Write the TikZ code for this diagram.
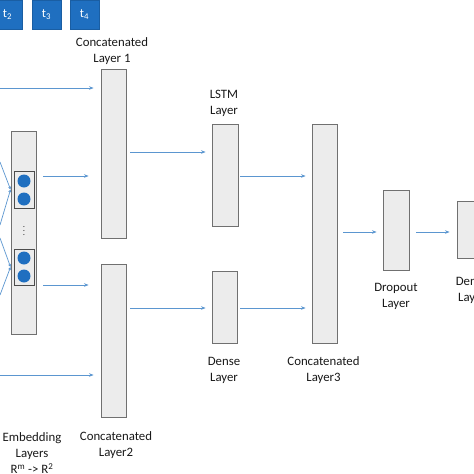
\documentclass[tikz,border=0pt]{standalone}
\usepackage{fontspec}
\setmainfont{Carlito}
\usetikzlibrary{arrows.meta,calc}
\definecolor{tblue}{RGB}{31,111,192}
\definecolor{arrowc}{RGB}{91,150,208}
\definecolor{rectfill}{RGB}{236,236,236}
\definecolor{rectdraw}{RGB}{112,112,112}
\definecolor{txt}{RGB}{25,25,25}
\begin{document}
\begin{tikzpicture}[x=1pt,y=-1pt,
  layer/.style={draw=rectdraw,fill=rectfill,line width=0.9pt,minimum width=25pt,inner sep=0pt},
  inbox/.style={draw=black!70,fill=rectfill,line width=0.8pt,minimum width=20pt,inner sep=0pt},
  dot/.style={circle,fill=tblue,minimum size=13pt,inner sep=0pt},
  tbox/.style={fill=tblue,draw=tblue!85!black,text=white,minimum width=29pt,minimum height=29pt,inner sep=0pt,font=\fontsize{12.5}{14}\selectfont},
  lbl/.style={align=center,text=txt,inner sep=0pt,font=\fontsize{12.8}{16}\selectfont},
  arr/.style={draw=arrowc,line width=0.8pt,-{Stealth[length=4.5pt,width=3.5pt]}},
  arrs/.style={draw=arrowc,line width=0.7pt,-{Stealth[length=3pt,width=3pt]}}]
\useasboundingbox (0,0) rectangle (474,474);
\fill[white] (0,0) rectangle (474,474);

% top blue boxes
\node[tbox] (t2) at (7.5,14.5) {t\textsubscript{2}};
\node[tbox] (t3) at (46.5,14.5) {t\textsubscript{3}};
\node[tbox] (t4) at (84.5,14.5) {t\textsubscript{4}};

% embedding
\node[layer,minimum height=203pt] (emb) at (23.5,232.5) {};
\node[inbox,minimum height=37pt] (box1) at (24,189.5) {};
\node[inbox,minimum height=36pt] (box2) at (24,267) {};
\node[dot] (d11) at (24,181) {};
\node[dot] (d12) at (24,199) {};
\node[dot] (d21) at (24,258) {};
\node[dot] (d22) at (24,276) {};
\node[text=black!80,inner sep=0pt,font=\fontsize{9}{10}\selectfont] (vd) at (24,228) {$\vdots$};

% layers
\node[layer,minimum height=169pt] (cat1) at (113.5,153.5) {};
\node[layer,minimum height=153pt] (cat2) at (113.5,340.5) {};
\node[layer,minimum width=26pt,minimum height=102pt] (lstm) at (225,175) {};
\node[layer,minimum height=72pt] (dense) at (224.5,307) {};
\node[layer,minimum height=219pt] (cat3) at (324.5,233.5) {};
\node[layer,minimum width=26pt,minimum height=80pt] (drop) at (396,230) {};
\node[layer,minimum width=26pt,minimum height=57pt] (dense2) at (470,229.5) {};

% labels
\node[lbl] (lcat1) at (112,51) {Concatenated\\Layer 1};
\node[lbl] (llstm) at (224,103) {LSTM\\Layer};
\node[lbl] (ldense) at (224,370) {Dense\\Layer};
\node[lbl] (lcat3) at (323.5,370) {Concatenated\\Layer3};
\node[lbl] (ldrop) at (396,296) {Dropout\\Layer};
\node[lbl] (ldense2) at (472,290) {Dense\\Layer};
\node[lbl] (lemb) at (32,453) {Embedding\\Layers\\R\textsuperscript{m} -> R\textsuperscript{2}};
\node[lbl] (lcat2) at (116,445) {Concatenated\\Layer2};

% input lines into embeddings
\coordinate (i1) at (0,162);
\coordinate (i2) at (0,225);
\coordinate (i3) at (0,238);
\coordinate (i4) at (0,295);
\draw[arrs] (i1) -- (emb.west |- box1.west);
\draw[arrs] (i2) -- (emb.west |- box1.west);
\draw[arrs] (i3) -- (emb.west |- box2.west);
\draw[arrs] (i4) -- (emb.west |- box2.west);

% free inputs
\coordinate (in1) at (0,88);
\coordinate (in2) at (0,375);
\draw[arr] (in1) -- ($(cat1.west |- in1)+(-7,0)$);
\draw[arr] (in2) -- ($(cat2.west |- in2)+(-7,0)$);

% embedding -> concatenated
\draw[arr] ($(emb.east |- 0,176)+(7,0)$) -- ($(cat1.west |- 0,176)+(-12,0)$);
\draw[arr] ($(emb.east |- 0,285)+(7,0)$) -- ($(cat2.west |- 0,285)+(-12,0)$);

% concatenated -> lstm / dense
\draw[arr] ($(cat1.east |- 0,152)+(4,0)$) -- ($(lstm.west |- 0,152)+(-6,0)$);
\draw[arr] ($(cat2.east |- 0,308)+(4,0)$) -- ($(dense.west |- 0,308)+(-6,0)$);

% lstm / dense -> cat3
\draw[arr] ($(lstm.east |- 0,176)+(2,0)$) -- ($(cat3.west |- 0,176)+(-6,0)$);
\draw[arr] ($(dense.east |- 0,308)+(3,0)$) -- ($(cat3.west |- 0,308)+(-6,0)$);

% cat3 -> dropout -> dense2
\draw[arr] ($(cat3.east |- 0,232)+(6,0)$) -- ($(drop.west |- 0,232)+(-6,0)$);
\draw[arr] ($(drop.east |- 0,232)+(7,0)$) -- ($(dense2.west |- 0,232)+(-7,0)$);
\end{tikzpicture}
\end{document}
